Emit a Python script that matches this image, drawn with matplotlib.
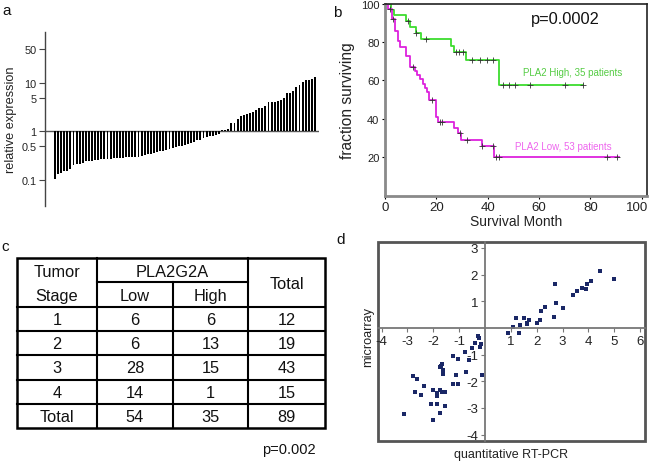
import matplotlib
matplotlib.use("Agg")
import matplotlib.pyplot as plt
from matplotlib import font_manager
from matplotlib.patches import Rectangle
import matplotlib.transforms as mtransforms
import numpy as np

plt.rcParams['font.family'] = ['Liberation Sans', 'DejaVu Sans']
plt.rcParams['axes.unicode_minus'] = False

# ---------------- data ----------------
# panel a: relative expression per tumour (sorted)
expr_low = [0.105, 0.13, 0.14, 0.15, 0.155, 0.165, 0.2, 0.21, 0.215, 0.22,
            0.24, 0.25, 0.25, 0.26, 0.26, 0.265, 0.27, 0.27, 0.27, 0.28,
            0.28, 0.28, 0.285, 0.29, 0.29, 0.29, 0.3, 0.3, 0.31, 0.33,
            0.34, 0.35, 0.36, 0.37, 0.39, 0.4, 0.42, 0.44, 0.45, 0.47,
            0.49, 0.5, 0.52, 0.55, 0.58, 0.6, 0.65, 0.68, 0.72, 0.75,
            0.8, 0.82, 0.85, 0.88]
expr_high = [1.05, 1.07, 1.1, 1.46, 1.49, 1.8, 2.04, 2.17, 2.28, 2.39, 2.46,
             2.75, 2.98, 3.07, 3.28, 3.96, 3.96, 4.09, 4.29, 4.4, 4.8, 6.07,
             6.27, 6.9, 8.1, 9.0, 10.2, 11.3, 11.6, 12.0, 13.2]
expr_ticks = [0.1, 0.5, 1, 5, 10, 50]
expr_ticklabels = ['0.1', '0.5', '1', '5', '10', '50']

# panel b: Kaplan-Meier curves
high_t = [0, 2.5, 3.4, 8.3, 9.8, 12.2, 14.2, 25.8, 26.7, 31.4, 44.6, 77]
high_s = [100, 97.0, 94.0, 91.0, 88.2, 85.0, 81.5, 78.0, 75.0, 70.5, 57.5, 57.5]
high_cens_t = [2.1, 8.8, 12.2, 16.1, 27.5, 29.0, 30.5, 33.8, 37.0, 39.6, 42.2,
               46.0, 48.5, 50.5, 56.5, 70.0, 77.0]
high_cens_s = [97.5, 91.0, 85.0, 81.5, 75.0, 75.0, 75.0, 70.5, 70.5, 70.5, 70.5,
               57.5, 57.5, 57.5, 57.5, 57.5, 57.5]
low_t = [0, 1.3, 2.6, 3.9, 5.2, 5.8, 8.2, 9.7, 11.7, 12.6, 13.6, 14.7, 15.6,
         16.2, 17.3, 20.0, 20.6, 26.9, 28.6, 29.5, 37.7, 42.6, 91]
low_s = [100, 97.4, 92.1, 86.0, 80.8, 77.3, 72.9, 66.8, 65.1, 62.8, 60.7, 58.1,
         55.8, 53.7, 50.0, 40.6, 38.0, 34.9, 32.3, 29.0, 25.5, 20.0, 20.0]
low_cens_t = [3.2, 11.0, 18.2, 21.3, 22.4, 29.2, 31.8, 37.8, 42.0, 43.4, 44.5,
              86.5, 90.5]
low_cens_s = [92.1, 66.8, 50.0, 38.0, 38.0, 32.3, 29.0, 25.5, 25.5, 20.0, 20.0,
              20.0, 20.0]

# panel c: table
stages = ['1', '2', '3', '4', 'Total']
low_counts = [6, 6, 28, 14, 54]
high_counts = [6, 13, 15, 1, 35]
total_counts = [12, 19, 43, 15, 89]

# panel d: microarray vs quantitative RT-PCR
qpcr = [0.90, 1.10, 1.21, 1.35, 1.33, 1.52, 1.61, 1.64, 1.72, 2.03, 2.13, 2.17,
        2.32, 2.67, 2.74, 2.70, 3.03, 3.39, 3.57, 3.77, 3.91, 3.94, 4.09, 4.43,
        4.99,
        -0.26, -0.23, -0.17, -0.19, -0.39, -0.52, -0.77, -0.62, -0.74, -0.13,
        -1.25, -1.06, -1.12, -1.03, -1.25, -1.65, -1.70, -1.74, -1.61, -1.61,
        -2.80, -2.62, -2.35, -2.70, -2.49, -2.03, -1.85, -1.87, -1.74, -1.68,
        -1.55, -2.10, -1.85, -1.55, -1.74, -2.03, -3.14]
micro = [-0.19, 0.03, 0.375, 0.09, -0.21, 0.375, 0.19, 0.15, 0.31, 0.19, 0.31,
         0.65, 0.78, 0.40, 0.94, 1.66, 0.73, 1.23, 1.38, 1.50, 1.46, 1.66, 1.75,
         2.13, 1.84,
         -0.29, -0.375, -0.59, -0.71, -0.56, -0.75, -0.91, -1.21, -1.66, -1.78,
         -1.04, -1.16, -1.75, -2.09, -2.10, -1.34, -1.41, -1.46, -1.56, -1.71,
         -1.81, -1.90, -2.19, -2.41, -2.53, -2.31, -2.44, -2.54, -2.31, -2.40,
         -2.41, -2.84, -2.84, -2.94, -3.19, -3.44, -3.23]
d_xticks = [-4, -3, -2, -1, 1, 2, 3, 4, 5, 6]
d_yticks = [-4, -3, -2, -1, 1, 2, 3]

W, H = 649, 464
fig = plt.figure(figsize=(W / 100, H / 100), dpi=100)

def fbox(l, t, r, b):
    return [l / W, 1 - b / H, (r - l) / W, (b - t) / H]

# ---------------- panel a ----------------
ax = fig.add_axes(fbox(45, 33, 319, 207))
vals = expr_low + expr_high
x = np.arange(len(vals))
v = np.array(vals)
ax.bar(x, v - 1, bottom=1, width=0.62, color='black', edgecolor='none')
ax.set_yscale('log')
ax.set_ylim(0.029, 112)
ax.set_xlim(-3.2, len(vals) - 1 + 1.3)
ax.axhline(1, color='#555555', lw=1.0, zorder=0)
for s in ['top', 'right', 'bottom']:
    ax.spines[s].set_visible(False)
ax.spines['left'].set_color('#444444')
ax.spines['left'].set_linewidth(1.0)
ax.set_xticks([])
ax.set_yticks(expr_ticks)
ax.set_yticklabels(expr_ticklabels)
ax.yaxis.set_minor_locator(matplotlib.ticker.NullLocator())
ax.tick_params(axis='y', labelsize=7.8, length=4, width=0.8, color='#444444', pad=2,
               labelcolor='#222222')
ax.set_ylabel('relative expression', fontsize=9.2, color='#222222', labelpad=3)

# ---------------- panel b ----------------
bx = fig.add_axes(fbox(385, 5, 647, 197))
bx.step(high_t, high_s, where='post', color='#3ddc2e', lw=1.3)
bx.step(low_t, low_s, where='post', color='#dd22dd', lw=1.3)
bx.plot(high_cens_t, high_cens_s, '+', color='#333333', ms=5, mew=0.6)
bx.plot(low_cens_t, low_cens_s, '+', color='#333333', ms=5, mew=0.6)
bx.set_xlim(0, 102.1)
bx.set_ylim(-0.5, 100)
bx.set_xticks([0, 20, 40, 60, 80, 100])
bx.set_yticks([20, 40, 60, 80, 100])
bx.tick_params(axis='x', labelsize=9.5, length=2, width=0.8, pad=1.5, labelcolor='#222222')
bx.tick_params(axis='y', labelsize=8, length=2, width=0.8, pad=2, labelcolor='#222222')
lastlab = bx.get_xticklabels()[-1]
lastlab.set_transform(lastlab.get_transform() +
                      mtransforms.ScaledTranslation(-5 / 100, 0, fig.dpi_scale_trans))
for s in ['left', 'bottom']:
    bx.spines[s].set_color('#8a8a8a')
    bx.spines[s].set_linewidth(2.0)
for s in ['top', 'right']:
    bx.spines[s].set_color('#222222')
    bx.spines[s].set_linewidth(1.2)
bx.set_xlabel('Survival Month', fontsize=10, color='#222222', labelpad=1)
bx.set_ylabel('fraction surviving', fontsize=11.2, color='#222222', labelpad=4)
bx.text(0.69, 0.925, 'p=0.0002', transform=bx.transAxes, fontsize=11.8,
        ha='center', va='center', color='#111111')
bx.text(53.8, 64.5, 'PLA2 High, 35 patients', fontsize=7, color='#55cc44',
        ha='left', va='center')
bx.text(50.6, 25.8, 'PLA2 Low, 53 patients', fontsize=7, color='#ee66ee',
        ha='left', va='center')

# ---------------- panel d ----------------
dx = fig.add_axes(fbox(378, 243, 645, 442))
dx.plot(qpcr, micro, 's', color='#1a2766', ms=2.2, mew=0)
dx.set_xlim(-4.14, 6.19)
dx.set_ylim(-4.24, 3.22)
dx.spines['left'].set_position(('data', 0))
dx.spines['bottom'].set_position(('data', 0))
dx.spines['top'].set_visible(False)
dx.spines['right'].set_visible(False)
for s in ['left', 'bottom']:
    dx.spines[s].set_color('#777777')
    dx.spines[s].set_linewidth(1.3)
dx.add_patch(Rectangle((0, 0), 1, 1, transform=dx.transAxes, fill=False,
                       edgecolor='#555555', lw=2.0, clip_on=False))
dx.set_xticks(d_xticks)
dx.set_xticklabels([str(t) for t in d_xticks])
dx.set_yticks(d_yticks)
dx.set_yticklabels([str(t) for t in d_yticks])
dx.tick_params(labelsize=9.5, length=3, width=0.8, color='#777777', pad=2,
               labelcolor='#222222')
fig.text(511 / W, 1 - 455 / H, 'quantitative RT-PCR', fontsize=9,
         ha='center', va='center', color='#222222')
fig.text(368 / W, 1 - 337 / H, 'microarray', rotation=90, fontsize=9.2,
         ha='center', va='center', color='#222222')

# ---------------- panel c (table) + panel letters ----------------
tx = fig.add_axes([0, 0, 1, 1])
tx.set_xlim(0, W)
tx.set_ylim(H, 0)
tx.axis('off')

names = {f.name for f in font_manager.fontManager.ttflist}
if 'Liberation Sans Narrow' in names:
    tfam, tsize = ['Liberation Sans Narrow', 'Liberation Sans'], 13.4
else:
    tfam, tsize = ['Liberation Sans', 'DejaVu Sans'], 11.8

cx = [17, 97, 173, 248, 325]
ry_head = [259, 283, 308]
ry = [308, 332, 356, 381, 405, 429]
lk = dict(color='black', solid_capstyle='projecting')
tx.add_patch(Rectangle((cx[0], ry_head[0]), cx[-1] - cx[0], ry[-1] - ry_head[0],
                       fill=False, edgecolor='black', lw=1.8))
tx.plot([cx[1], cx[1]], [ry_head[0], ry[-1]], lw=1.5, **lk)
tx.plot([cx[3], cx[3]], [ry_head[0], ry[-1]], lw=1.5, **lk)
tx.plot([cx[2], cx[2]], [ry_head[1], ry[-1]], lw=1.5, **lk)
tx.plot([cx[1], cx[3]], [ry_head[1], ry_head[1]], lw=1.5, **lk)
for yy in ry[:-1]:
    tx.plot([cx[0], cx[-1]], [yy, yy], lw=1.5, **lk)

def ctext(xc, yc, s):
    tx.text(xc, yc, s, ha='center', va='center', fontsize=tsize, family=tfam,
            color='#111111')

ctext((cx[0] + cx[1]) / 2, 272.5, 'Tumor')
ctext((cx[0] + cx[1]) / 2, 297, 'Stage')
ctext((cx[1] + cx[3]) / 2, 272.5, 'PLA2G2A')
ctext((cx[1] + cx[2]) / 2, 297, 'Low')
ctext((cx[2] + cx[3]) / 2, 297, 'High')
ctext((cx[3] + cx[4]) / 2, 285, 'Total')
for i in range(len(stages)):
    yc = (ry[i] + ry[i + 1]) / 2 + 0.5
    ctext((cx[0] + cx[1]) / 2, yc, stages[i])
    ctext((cx[1] + cx[2]) / 2, yc, str(low_counts[i]))
    ctext((cx[2] + cx[3]) / 2, yc, str(high_counts[i]))
    ctext((cx[3] + cx[4]) / 2, yc, str(total_counts[i]))
tx.text(289, 450, 'p=0.002', ha='center', va='center', fontsize=10.5,
        color='#111111')

for lab, (lx, ly) in {'a': (7, 11), 'b': (337, 13), 'c': (5, 247), 'd': (341, 240)}.items():
    tx.text(lx, ly, lab, ha='center', va='center', fontsize=11, color='#111111')

fig.savefig('out.png', dpi=100)
